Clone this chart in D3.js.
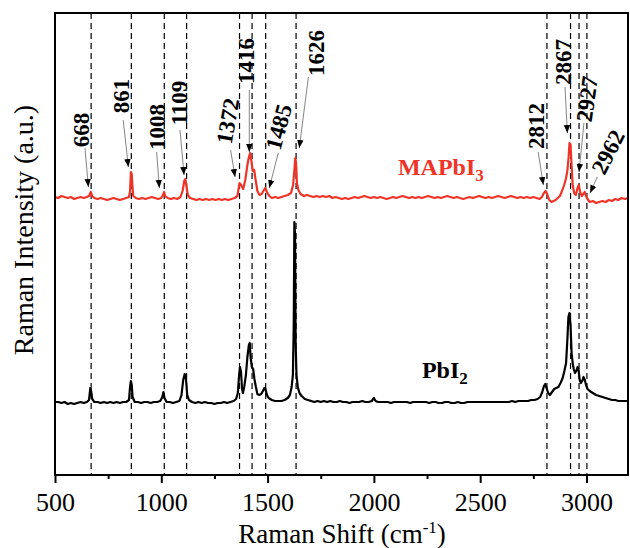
<!DOCTYPE html>
<html><head><meta charset="utf-8">
<script src="https://cdn.jsdelivr.net/npm/d3@7"></script>
<style>body{margin:0;background:#fff}svg{display:block}</style>
</head><body><svg id="c" width="630" height="548"></svg>
<script>
// ---- data ----
const xTicks = [500, 1000, 1500, 2000, 2500, 3000];
const xMinorTicks = [750, 1250, 1750, 2250, 2750];
const dashedLines = [670, 859, 1014, 1119, 1368, 1427, 1491, 1634, 2814, 2925, 2965, 3002];
const peakLabels = ["668","861","1008","1109","1372","1416","1485","1626","2812","2867","2927","2962"];
// label centre (shift, intensity), rotation, arrow from / to (shift, intensity)
const labelPos = [[626,345],[815,379],[980,348],[1086,372],[1314,354],[1403,414],[1554,348],[1732,422],[2767,349],[2894,413],[3004,376],[3103,323]];
const labelRot = [-90,-90,-90,-90,-80,-90,-75,-90,-90,-90,-82,-63];
const arrowFrom = [[641,327],[821,355],[978,323],[1088,345],[1326,325],[1414,385],[1550,322],[1692,398],[2773,323],[2899,388],[2988,352],[3051,298]];
const arrowTo = [[657,288],[845,308],[991,287],[1107,300],[1347,298],[1414,323],[1508,287],[1649,327],[2797,290],[2910,342],[2965,303],[3017,282]];

const redShift = [500,515,530,545,560,575,590,605,620,635,650,660,668,675,685,700,715,730,745,760,775,790,805,820,835,848,853,857,861,864,868,880,895,910,925,940,955,970,985,1000,1008,1013,1018,1030,1045,1060,1075,1090,1100,1108,1113,1118,1125,1135,1150,1165,1180,1195,1210,1225,1240,1255,1270,1285,1300,1315,1330,1345,1358,1368,1375,1385,1395,1405,1412,1418,1424,1430,1437,1443,1452,1462,1472,1480,1489,1497,1508,1520,1535,1550,1565,1580,1595,1610,1620,1626,1630,1634,1638,1645,1655,1670,1685,1700,1715,1730,1745,1760,1775,1790,1805,1820,1835,1850,1865,1880,1895,1910,1925,1940,1955,1970,1985,2000,2015,2030,2045,2060,2075,2090,2105,2120,2135,2150,2165,2180,2195,2210,2225,2240,2255,2270,2285,2300,2315,2330,2345,2360,2375,2390,2405,2420,2435,2450,2465,2480,2495,2510,2525,2540,2555,2570,2585,2600,2615,2630,2645,2660,2675,2690,2705,2720,2735,2750,2765,2780,2790,2800,2808,2815,2825,2835,2845,2855,2865,2875,2885,2895,2903,2910,2916,2920,2925,2930,2935,2942,2950,2958,2964,2970,2978,2985,2992,2998,3005,3015,3030,3045,3060,3075,3090,3105,3120,3135,3150,3165,3180,3195,3200];
const redIntensity = [278,277,279,278,277,278,276,277,278,277,278,279,283,279,277,276,277,276,275,276,277,276,275,276,277,278,284,303,301,290,279,277,276,277,276,277,278,277,276,277,280,283,279,277,276,277,276,278,284,294,296,289,280,277,276,275,276,275,276,275,276,275,276,275,276,275,276,277,279,292,290,286,295,310,318,322,314,304,305,296,284,280,281,284,287,283,279,277,278,277,278,279,280,282,290,305,317,312,292,285,281,279,280,279,278,279,278,279,278,279,277,278,277,276,277,276,277,278,277,278,279,278,277,278,277,278,277,276,277,278,277,278,279,278,277,278,277,278,277,278,279,278,277,278,277,278,279,278,277,278,277,276,277,278,277,278,279,278,277,278,277,278,279,278,277,278,279,278,277,278,277,278,277,278,277,276,278,282,284,281,275,273,274,275,277,279,284,290,296,304,318,332,330,310,290,282,280,287,290,283,279,281,283,279,276,273,274,272,273,274,273,275,274,276,275,277,276,277,277];

const blackShift = [500,515,530,545,560,575,590,605,620,635,650,660,666,670,675,685,700,715,730,745,760,775,790,805,820,835,848,853,857,861,865,875,890,905,920,935,950,965,980,995,1005,1010,1015,1025,1040,1055,1070,1085,1095,1103,1110,1116,1122,1130,1145,1160,1175,1190,1205,1220,1235,1250,1265,1280,1295,1310,1325,1340,1352,1360,1366,1370,1375,1380,1384,1390,1398,1405,1412,1416,1420,1426,1432,1438,1445,1452,1460,1470,1478,1485,1490,1497,1505,1520,1535,1550,1565,1580,1595,1605,1613,1619,1623,1626,1629,1632,1636,1642,1650,1660,1675,1690,1705,1720,1735,1750,1765,1780,1795,1810,1825,1840,1855,1870,1885,1900,1915,1930,1945,1960,1975,1990,2000,2008,2020,2035,2050,2065,2080,2095,2110,2125,2140,2155,2170,2185,2200,2215,2230,2245,2260,2275,2290,2305,2320,2335,2350,2365,2380,2395,2410,2425,2440,2455,2470,2485,2500,2515,2530,2545,2560,2575,2590,2605,2620,2635,2650,2665,2680,2695,2710,2725,2740,2755,2770,2782,2792,2800,2806,2812,2820,2828,2838,2848,2858,2868,2878,2888,2896,2904,2910,2915,2920,2925,2930,2935,2940,2946,2952,2958,2963,2968,2974,2980,2986,2992,2998,3005,3015,3030,3045,3060,3075,3090,3105,3120,3135,3150,3165,3180,3200];
const blackIntensity = [73,73,72,73,71,72,71,72,73,72,73,75,87,84,76,73,73,72,73,72,73,72,73,72,73,73,75,88,94,90,78,73,73,72,73,73,72,73,73,74,78,83,77,73,73,72,73,74,80,95,101,96,80,75,73,72,73,72,73,72,72,71,72,72,73,72,73,74,76,82,100,108,103,86,82,88,100,118,130,132,118,108,106,96,88,81,80,81,84,87,86,80,77,75,74,74,74,75,77,80,88,100,150,253,240,130,100,88,82,79,76,75,74,73,74,73,74,73,74,73,73,74,73,73,72,73,73,73,74,73,73,74,77,74,73,73,73,73,72,73,73,73,73,73,72,73,73,73,73,73,72,73,73,72,72,73,73,72,72,73,72,72,73,73,73,73,73,73,73,73,73,73,73,73,73,73,74,73,74,74,74,74,75,75,76,78,83,89,91,87,82,80,83,86,87,88,92,97,104,112,135,158,162,150,122,112,106,102,104,108,105,95,92,94,98,95,90,86,84,82,80,79,78,77,76,75,75,74,74,74,74];

const seriesNames = ["MAPbI", "PbI"];
const seriesSubs = ["3", "2"];
const seriesColors = ["#ee3427", "#000000"];
const seriesLabelPos = [[2113,300],[2226,97]];

// ---- drawing ----
const svg = d3.select("#c");
const L = 55, R = 628, T = 13, B = 475;
const x = d3.scaleLinear().domain([500, 3200]).range([L, 629]);
const y = d3.scaleLinear().domain([0, 462]).range([B, T]);
const serif = "'Liberation Serif','Times New Roman',serif";

const defs = svg.append("defs");
defs.append("clipPath").attr("id","clip").append("rect").attr("x",L).attr("y",T).attr("width",R-L).attr("height",B-T);
defs.append("marker").attr("id","ah").attr("viewBox","0 0 10 10").attr("refX",10).attr("refY",5)
  .attr("markerWidth",8).attr("markerHeight",8).attr("markerUnits","userSpaceOnUse").attr("orient","auto")
  .append("path").attr("d","M0,1 L10,5 L0,9 Z").attr("fill","#000");

// dashed lines
svg.append("g").selectAll("line").data(dashedLines).join("line")
  .attr("x1", d=>x(d)).attr("x2", d=>x(d)).attr("y1", T).attr("y2", B)
  .attr("stroke","#000").attr("stroke-width",1.2).attr("stroke-dasharray","6,4");

const line = d3.line().x(d=>x(d[0])).y(d=>y(d[1]));
const gL = svg.append("g").attr("clip-path","url(#clip)");
gL.append("path").datum(blackShift.map((s,i)=>[s, blackIntensity[i]])).attr("d", line)
  .attr("fill","none").attr("stroke",seriesColors[1]).attr("stroke-width",2.2).attr("stroke-linejoin","round");
gL.append("path").datum(redShift.map((s,i)=>[s, redIntensity[i]])).attr("d", line)
  .attr("fill","none").attr("stroke",seriesColors[0]).attr("stroke-width",2.2).attr("stroke-linejoin","round");

// arrows
svg.append("g").selectAll("line").data(arrowFrom).join("line")
  .attr("x1",d=>x(d[0])).attr("y1",d=>y(d[1]))
  .attr("x2",(d,i)=>x(arrowTo[i][0])).attr("y2",(d,i)=>y(arrowTo[i][1]))
  .attr("stroke","#666").attr("stroke-width",0.8).attr("marker-end","url(#ah)");

// peak labels
svg.append("g").selectAll("text").data(peakLabels).join("text")
  .attr("transform",(d,i)=>`translate(${x(labelPos[i][0])},${y(labelPos[i][1])}) rotate(${labelRot[i]})`)
  .attr("text-anchor","middle").attr("dominant-baseline","central")
  .attr("font-family",serif).attr("font-weight","bold").attr("font-size",23).attr("fill","#000")
  .text(d=>d);

// series labels
seriesNames.forEach((n,i)=>{
  const t = svg.append("text").attr("x", x(seriesLabelPos[i][0])).attr("y", y(seriesLabelPos[i][1]))
    .attr("font-family",serif).attr("font-weight","bold").attr("font-size",24).attr("fill",seriesColors[i]);
  t.append("tspan").text(n);
  t.append("tspan").attr("dy",6).attr("font-size",17).text(seriesSubs[i]);
});

// axes
const ax = svg.append("g").attr("transform",`translate(0,${B})`)
  .call(d3.axisBottom(x).tickValues(xTicks).tickSize(8).tickPadding(10).tickFormat(d3.format("d")));
ax.select(".domain").remove();
ax.selectAll("line").attr("stroke","#000").attr("stroke-width",2);
ax.selectAll("text").attr("font-family",serif).attr("font-size",26).attr("fill","#000");
const axm = svg.append("g").attr("transform",`translate(0,${B})`)
  .call(d3.axisBottom(x).tickValues(xMinorTicks).tickSize(4).tickFormat(""));
axm.select(".domain").remove();
axm.selectAll("line").attr("stroke","#000").attr("stroke-width",2);

svg.append("rect").attr("x",L).attr("y",T).attr("width",R-L).attr("height",B-T)
  .attr("fill","none").attr("stroke","#000").attr("stroke-width",2);

// titles
const xt = svg.append("text").attr("x",342).attr("y",543).attr("text-anchor","middle")
  .attr("font-family",serif).attr("font-size",27).attr("fill","#000");
xt.append("tspan").text("Raman Shift (cm");
xt.append("tspan").attr("dy",-10).attr("font-size",17).text("-1");
xt.append("tspan").attr("dy",10).text(")");
svg.append("text").attr("transform","translate(33,230) rotate(-90)").attr("text-anchor","middle")
  .attr("font-family",serif).attr("font-size",28).attr("fill","#000").text("Raman Intensity (a.u.)");
</script></body></html>
